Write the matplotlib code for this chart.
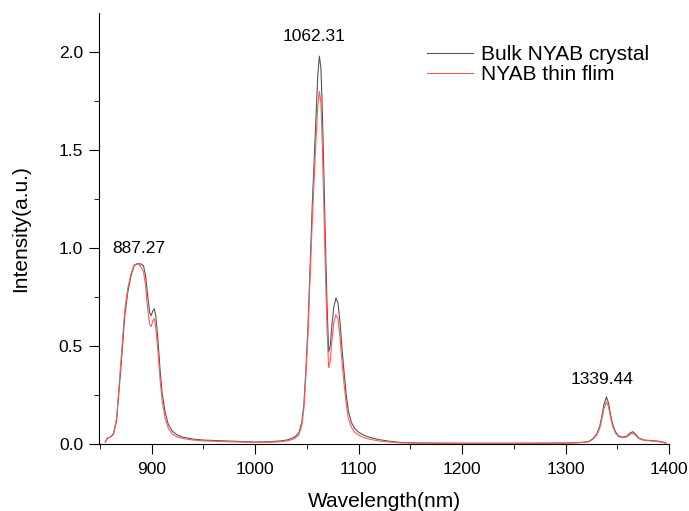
import matplotlib.pyplot as plt
from matplotlib.ticker import MultipleLocator

plt.rcParams['font.family'] = ['Liberation Sans', 'DejaVu Sans']

# emission spectra, wavelength in nm, intensity in a.u.
wavelength = [855, 857, 860, 863, 866, 868, 870, 872, 874, 877, 880, 883, 886, 889, 892, 894, 896, 898,
              899.5, 901, 902.5, 904, 906, 908, 910, 913, 916, 920, 925, 930, 940, 950, 960, 980, 1000,
              1015, 1025, 1032, 1038, 1042, 1045, 1047, 1049, 1051, 1053, 1055, 1057, 1059, 1060.5, 1062,
              1063.5, 1065, 1066.5, 1068, 1069.5, 1071, 1072.5, 1074, 1076, 1078, 1080, 1082, 1084, 1086,
              1088, 1090, 1093, 1096, 1100, 1105, 1110, 1120, 1130, 1140, 1160, 1200, 1250, 1300, 1315,
              1322, 1326, 1330, 1333, 1335, 1337, 1339.5, 1341.5, 1343.5, 1345.5, 1348, 1351, 1355, 1359,
              1362, 1365, 1368, 1371, 1376, 1382, 1388, 1393, 1397]

bulk = [0.01, 0.03, 0.035, 0.05, 0.12, 0.25, 0.38, 0.52, 0.66, 0.78, 0.86, 0.91, 0.92, 0.92, 0.91, 0.86,
        0.76, 0.67, 0.655, 0.68, 0.69, 0.65, 0.53, 0.38, 0.26, 0.16, 0.10, 0.065, 0.045, 0.035, 0.025,
        0.02, 0.018, 0.014, 0.01, 0.012, 0.016, 0.022, 0.035, 0.055, 0.11, 0.2, 0.38, 0.6, 0.9, 1.2,
        1.45, 1.7, 1.88, 1.98, 1.92, 1.68, 1.35, 1.0, 0.7, 0.47, 0.5, 0.6, 0.7, 0.745, 0.72, 0.62, 0.48,
        0.36, 0.25, 0.17, 0.11, 0.08, 0.06, 0.045, 0.035, 0.022, 0.014, 0.008, 0.005, 0.004, 0.004,
        0.005, 0.008, 0.012, 0.025, 0.05, 0.09, 0.14, 0.2, 0.24, 0.21, 0.15, 0.1, 0.065, 0.042, 0.035,
        0.04, 0.055, 0.063, 0.048, 0.03, 0.02, 0.018, 0.015, 0.012, 0.005]

film = [0.01, 0.03, 0.035, 0.055, 0.13, 0.27, 0.41, 0.55, 0.69, 0.80, 0.87, 0.915, 0.92, 0.91, 0.88,
        0.81, 0.69, 0.61, 0.60, 0.63, 0.64, 0.59, 0.47, 0.33, 0.22, 0.13, 0.08, 0.05, 0.035, 0.028, 0.02,
        0.016, 0.014, 0.011, 0.008, 0.009, 0.012, 0.017, 0.028, 0.045, 0.095, 0.18, 0.35, 0.56, 0.85,
        1.12, 1.36, 1.58, 1.73, 1.80, 1.74, 1.50, 1.18, 0.85, 0.57, 0.39, 0.42, 0.52, 0.62, 0.66, 0.64,
        0.54, 0.41, 0.30, 0.20, 0.13, 0.085, 0.06, 0.045, 0.033, 0.025, 0.015, 0.01, 0.006, 0.004,
        0.003, 0.003, 0.004, 0.007, 0.011, 0.022, 0.045, 0.08, 0.125, 0.18, 0.215, 0.19, 0.135, 0.09,
        0.058, 0.038, 0.032, 0.036, 0.048, 0.055, 0.042, 0.027, 0.018, 0.016, 0.013, 0.01, 0.004]

peak_labels = ['887.27', '1062.31', '1339.44']
peak_pos = [(887, 1.00), (1057, 2.08), (1335, 0.33)]

fig = plt.figure(figsize=(6.89, 5.11), dpi=100)
ax = fig.add_axes([0.1437, 0.1311, 0.8273, 0.8435])

ax.plot(wavelength, bulk, color='#555555', lw=0.8, label='Bulk NYAB crystal')
ax.plot(wavelength, film, color='#ff5a5a', lw=0.8, label='NYAB thin flim')

for txt, (x, y) in zip(peak_labels, peak_pos):
    ax.text(x, y, txt, ha='center', va='center', fontsize=12.5)

ax.set_xlim(849, 1400)
ax.set_ylim(0, 2.2)
ax.xaxis.set_major_locator(MultipleLocator(100))
ax.xaxis.set_minor_locator(MultipleLocator(50))
ax.yaxis.set_major_locator(MultipleLocator(0.5))
ax.yaxis.set_minor_locator(MultipleLocator(0.25))
ax.tick_params(which='both', direction='out', labelsize=12.5)
ax.tick_params(which='major', length=7)
ax.tick_params(which='minor', length=3.5)
ax.tick_params(axis='x', pad=6)
ax.tick_params(axis='y', pad=4.5)
for s in ['top', 'right']:
    ax.spines[s].set_visible(False)

ax.set_xlabel('Wavelength(nm)', fontsize=15)
ax.set_ylabel('Intensity(a.u.)', fontsize=15)
ax.xaxis.set_label_coords(0.5, -0.111)
ax.yaxis.set_label_coords(-0.1205, 0.5)
ax.legend(loc='upper left', bbox_to_anchor=(0.575, 0.926), frameon=False, fontsize=15,
          handlelength=2.2, handletextpad=0.4, labelspacing=0.05, borderpad=0, borderaxespad=0)

fig.savefig('out.png', dpi=100)
